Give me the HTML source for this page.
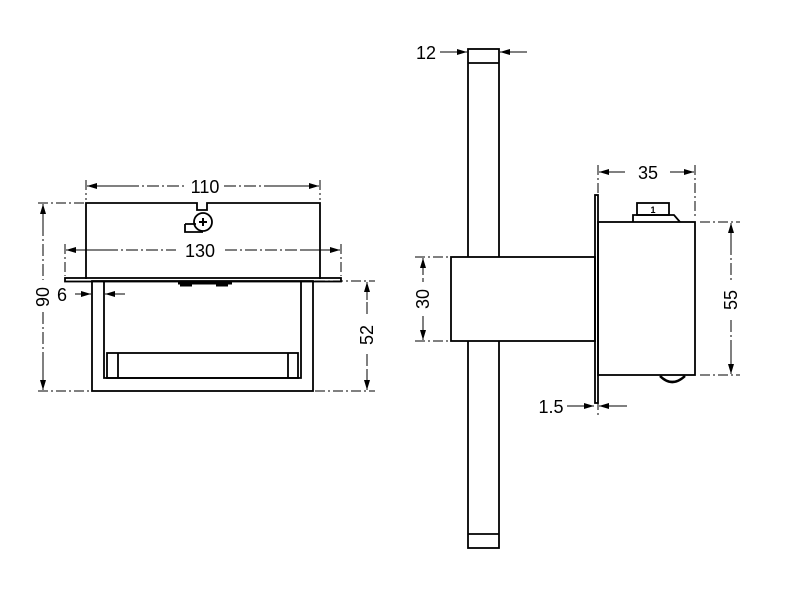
<!DOCTYPE html>
<html><head><style>body{margin:0;background:#fff}svg{display:block}</style></head><body>
<svg width="800" height="600" viewBox="0 0 800 600" xmlns="http://www.w3.org/2000/svg" font-family="Liberation Sans, sans-serif">
<defs>
<marker id="a" viewBox="0 0 10 6" refX="10" refY="3" markerWidth="10" markerHeight="6" orient="auto-start-reverse" markerUnits="userSpaceOnUse"><path d="M0,0L10,3L0,6z" fill="#000"/></marker>
</defs>
<g fill="none" stroke="#000" stroke-width="1.8">
<path d="M86,279V203H197V210H207V203H320V279"/>
<rect x="65" y="278" width="276" height="3.5"/>
<rect x="92" y="281" width="221" height="110"/>
<path d="M104,281V378H301V281"/>
<rect x="107" y="353" width="191" height="25"/>
<path d="M118,353V378M288,353V378"/>
<circle cx="203" cy="222" r="9"/>
<path d="M185,224H196M185,224V232H203"/>
<path d="M178,283H232M180,285h12M216,285h12" stroke-width="3"/>
<rect x="468" y="49" width="31" height="499"/>
<path d="M468,63H499M468,534H499"/>
<rect x="451" y="257" width="144" height="84" fill="#fff"/>
<rect x="595" y="195" width="3" height="208"/>
<rect x="598" y="222" width="97" height="153"/>
<rect x="637" y="203" width="32" height="12"/>
<path d="M633,222V215H674L680,222"/>
<path d="M660,376Q672,388 685,376" stroke-width="2.5"/>
</g>
<path d="M199,222h8M203,218v8" stroke="#000" stroke-width="2"/>
<g stroke="#000" stroke-width="1" stroke-dasharray="10,3,2,3" fill="none">
<path d="M86,180V200M320,180V200M65,244V276M341,244V276M38,203H84M38,391H92M315,281H375M315,391H375"/>
<path d="M598,165V218M695,165V218M700,222H740M700,375H740M415,257H449M415,341H449"/>
<path d="M104,282V300M92,282V300M598,400V415"/>
</g>
<g stroke="#000" stroke-width="1" fill="none" stroke-dasharray="12,3,2,3">
<path d="M87,186H186M224,186H319"/>
<path d="M66,250H176M225,250H340"/>
<path d="M43,204V280M43,312V390"/>
<path d="M367,282V316M367,354V390"/>
<path d="M731,223V282M731,320V374"/>
<path d="M423,258V282M423,316V340"/>
</g>
<g stroke="#000" stroke-width="1" fill="none" marker-end="url(#a)">
<path d="M130,186H87"/><path d="M270,186H319"/>
<path d="M110,250H66"/><path d="M300,250H340"/>
<path d="M43,230V204"/><path d="M43,360V390"/>
<path d="M367,300V282"/><path d="M367,370V390"/>
<path d="M731,250V223"/><path d="M731,350V374"/>
<path d="M423,275V258"/><path d="M423,320V340"/>
<path d="M625,172H599"/><path d="M670,172H694"/>
<path d="M440,52H467"/><path d="M527,52H500"/>
<path d="M567,406H594"/><path d="M627,406H599"/>
<path d="M75,294H91"/><path d="M125,294H105"/>
</g>
<g font-size="18" fill="#000" text-anchor="middle">
<text x="205" y="193">110</text>
<text x="200" y="257">130</text>
<text x="62" y="301">6</text>
<text x="648" y="179">35</text>
<text x="426" y="59">12</text>
<text x="551" y="413">1.5</text>
<text transform="translate(49,297) rotate(-90)">90</text>
<text transform="translate(373,335) rotate(-90)">52</text>
<text transform="translate(737,300) rotate(-90)">55</text>
<text transform="translate(429,299) rotate(-90)">30</text>
<text x="653" y="213" font-size="9" font-weight="bold">1</text>
</g>
</svg>
</body></html>
